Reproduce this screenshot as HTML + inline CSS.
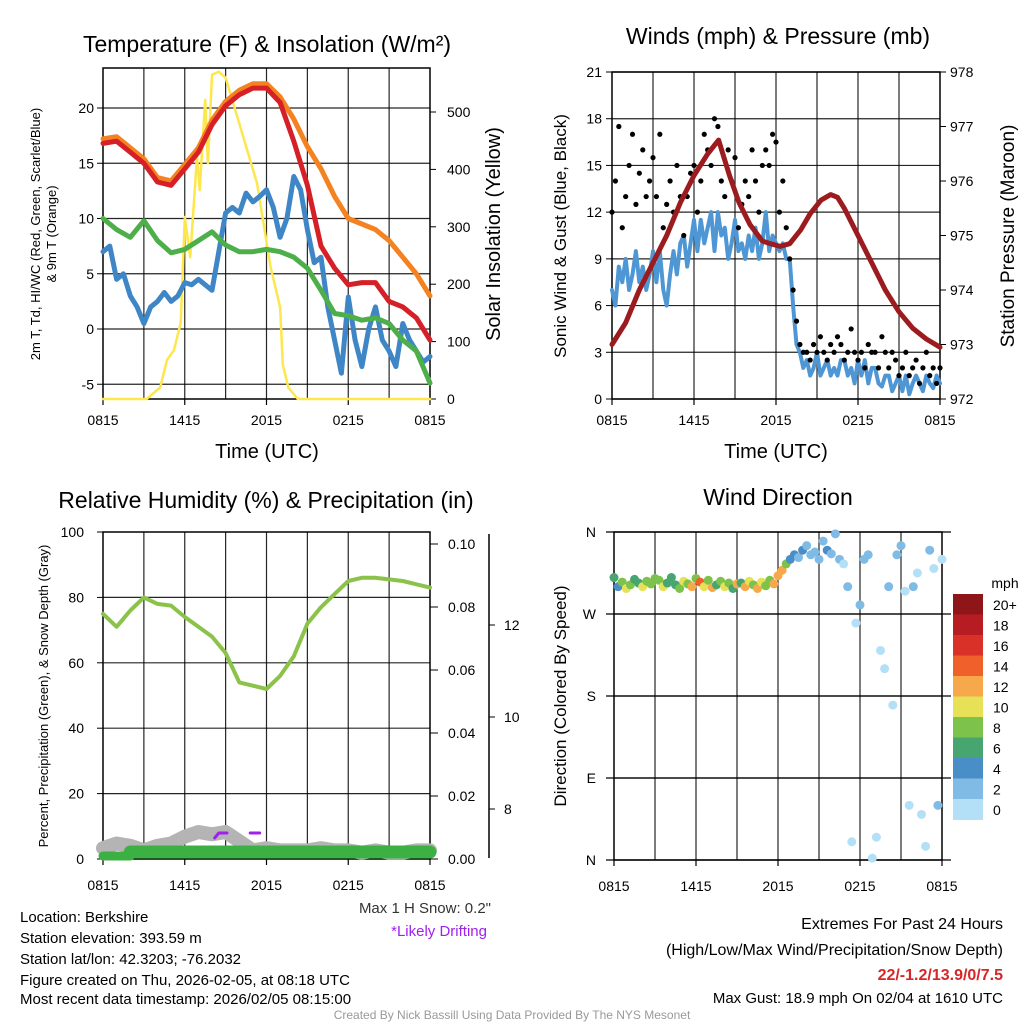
<!DOCTYPE html>
<html><head><meta charset="utf-8"><style>
body{margin:0;background:#fff}
svg{display:block;font-family:"Liberation Sans",sans-serif}
</style></head><body>
<svg id="s" width="1024" height="1024" viewBox="0 0 1024 1024">
<rect width="1024" height="1024" fill="#fff"/>
<g id="g1"></g>
<g id="g2"></g>
<g id="g3"></g>
<g id="g4"></g>
<g font-size="15" fill="#000">
<text x="20" y="922">Location: Berkshire</text>
<text x="20" y="943">Station elevation: 393.59 m</text>
<text x="20" y="964">Station lat/lon: 42.3203; -76.2032</text>
<text x="20" y="985">Figure created on Thu, 2026-02-05, at 08:18 UTC</text>
<text x="20" y="1004">Most recent data timestamp: 2026/02/05 08:15:00</text>
</g>
<text x="491" y="913" font-size="15" text-anchor="end" fill="#333">Max 1 H Snow: 0.2"</text>
<text x="487" y="936" font-size="15" text-anchor="end" fill="#a020f0">*Likely Drifting</text>
<g font-size="16" text-anchor="end">
<text x="1003" y="929">Extremes For Past 24 Hours</text>
<text x="1003" y="955">(High/Low/Max Wind/Precipitation/Snow Depth)</text>
<text x="1003" y="980" fill="#d62728" font-weight="bold">22/-1.2/13.9/0/7.5</text>
<text x="1003" y="1003" font-size="15">Max Gust: 18.9 mph On 02/04 at 1610 UTC</text>
</g>
<text x="512" y="1019" font-size="12" fill="#999" text-anchor="middle">Created By Nick Bassill Using Data Provided By The NYS Mesonet</text>
</svg>
<script>
// ---- Temperature panel data (hourly, 0815 UTC .. 0815 UTC) ----
const tempRed=[16.8,17,16,15,13.3,13,14.5,16,18.5,20.2,21.2,21.8,21.8,20.5,17,13,7.5,5.5,4,4.2,4.2,2.5,2,1,-1];
const tempOrange=[17.2,17.4,16.4,15.4,13.7,13.4,14.9,16.4,18.9,20.6,21.6,22.2,22.2,21,19,16.5,14.5,12,10,9.5,9,8,6.5,5,3];
const heatIndex=[10,9,8.3,9.8,8,6.9,7.2,8,8.8,7.6,7,7,7.2,7,6.5,5.5,3.5,1.4,1.2,0.8,1,0.5,-1,-2,-4.9];
const dewPoint=[7,7.5,4.5,5,3,2,0.5,2,2.5,3.3,2.5,3,4.2,4,4.5,4,3.5,7,10.5,11,10.5,12.3,11.5,12,12.6,11,8.3,10,13.8,12.6,9,6,6.5,2,-1,-4,2.9,-1,-3.4,0,2,-1,-2,-3.4,0.5,-1,-2,-3,-2.5];
const solarHours=[0,3.2,4.2,4.7,5.2,5.7,6.0,6.4,6.9,7.1,7.5,7.7,8.0,8.5,9.0,10,11.3,12.3,13,13.2,13.6,14.3,24];
const solarVals=[0,0,20,68,85,132,317,247,422,364,521,411,565,570,560,480,376,230,160,60,20,0,0];
const tempTicks=[-5,0,5,10,15,20];
const solarTicks=[0,100,200,300,400,500];
const timeLabels=["0815","1415","2015","0215","0815"];
// ---- Winds panel ----
const sonicWind=[7,6,8.5,7.5,9,7,8,9.5,7.5,8.5,7,8,9.5,7.5,9.5,7,6,8,9.5,8,10,10.5,8.5,10,11.5,9.5,11.5,10,11,12,9.5,12,10.5,11,9,10,11.5,9.5,10,9,10.5,9.5,11,9,10,12,9.5,10.5,10,9.5,10,9,9,6,3.5,3,2,2.5,1.5,2,3,1.5,2,2.5,1.5,2,1.5,2.5,2.5,1.5,2,1,2.5,1.5,2.5,1,2,2,1,0.8,1.5,1.5,0.5,1,1.5,0.5,1.5,0.3,1,1.5,1,0.5,1.5,1,0.7,1.5,1];
const gusts=[12,14,17.5,11,13,15,17,12.5,14.5,16,13,14,15.5,13,17,11,12.5,14,12,15,13,10.5,13,14.5,15,12,14,17,16,15,18,17.5,14,13,16,14,15.5,11,12.5,14,13,16,14,12,15,16,15,17,16.5,12,14,11,9,7,5,3.5,3,3,2.5,3.5,3,4,3,2.5,3.5,3,4,3.5,2.5,3,4.5,3,2.5,3,2,3.5,3,3,2,4,3,2,3,2.5,1.5,2,3,1.5,2,2.5,1,2,3,1.5,2,1,2];
const presHours=[0,1,2,3,4,5,6,7,7.8,8.6,9.3,10.1,11,11.6,12.3,13,13.8,14.5,15.3,16,16.5,17,18,19,20,21,22,23,24];
const presVals=[973.0,973.4,974.0,974.5,975.0,975.6,976.1,976.5,976.75,976.1,975.6,975.2,974.9,974.85,974.8,974.85,975.1,975.4,975.65,975.75,975.7,975.5,975.0,974.5,974.0,973.6,973.3,973.1,972.95];
const windTicks=[0,3,6,9,12,15,18,21];
const presTicks=[972,973,974,975,976,977,978];
// ---- RH panel ----
const rhVals=[75,71,76,80,78,77.5,74,71,68,63,54,53,52,56,62,72,77,81,85,86,86,85.5,85,84,83];
const snowDepth=[7.15,7.25,7.2,7.1,7.2,7.25,7.4,7.5,7.45,7.5,7.3,7.1,7.15,7.1,7.1,7.1,7.15,7.1,7.1,7.05,7.1,7.05,7.05,7.1,7.1];
const precipVals=[0,0,0,0,0,0,0,0,0,0,0,0,0,0,0,0,0,0,0,0,0,0,0,0,0];
const rhTicks=[0,20,40,60,80,100];
const precipTicks=["0.00","0.02","0.04","0.06","0.08","0.10"];
const snowTicks=[8,10,12];
// ---- Wind direction panel ----
const dirHours=[0,0.3,0.6,0.9,1.2,1.5,1.8,2.1,2.4,2.7,3,3.3,3.6,3.9,4.2,4.5,4.8,5.1,5.4,5.7,6,6.3,6.6,6.9,7.2,7.5,7.8,8.1,8.4,8.7,9,9.3,9.6,9.9,10.2,10.5,10.8,11.1,11.4,11.7,12,12.3,12.6,12.9,13.2,13.5,13.8,14.1,14.4,14.7,15,15.3,15.6,15.9,16.2,16.5,16.8,17.1,17.4,17.7,18,18.3,18.6,18.9,19.2,19.5,19.8,20.1,20.4,20.7,21,21.3,21.6,21.9,22.2,22.5,22.8,23.1,23.4,23.7,24];
const dirVals=[310,300,305,298,302,308,304,300,306,303,309,307,300,304,310,302,298,306,303,300,309,305,300,307,299,302,306,300,304,298,303,304,300,306,302,298,305,301,307,303,312,318,325,330,335,332,340,345,335,338,330,350,340,336,358,330,325,300,20,260,280,330,335,2,25,230,210,300,170,335,345,295,60,300,315,50,15,340,320,60,330];
const dirSpeeds=[6,5,8,10,8,6,7,10,9,8,9,8,10,7,6,7,8,10,9,12,8,14,10,8,12,7,9,10,8,7,12,7,12,10,8,13,10,8,9,12,12,12,8,4,4,3,4,3,2,3,2,3,4,2,3,2,1,2,1,1,2,3,2,1,1,1,1,2,1,3,2,1,1,2,1,1,1,2,1,2,1];
const dirTicks=["N","E","S","W","N"];
const speedLabels=["20+","18","16","14","12","10","8","6","4","2","0"];
const speedColors=["#8e1518","#b71c23","#d93028","#f0602a","#f6a84a","#e6e157","#7dc24b","#47a56f","#4a8ec7","#7fbbe4","#b3e0f7"];

const NS="http://www.w3.org/2000/svg";
function mk(parent,tag,attrs,txt){const e=document.createElementNS(NS,tag);for(const k in attrs)e.setAttribute(k,attrs[k]);if(txt!==undefined)e.textContent=txt;parent.appendChild(e);return e;}
function lin(d0,d1,r0,r1){return v=>r0+(v-d0)/(d1-d0)*(r1-r0);}
function poly(g,xs,ys,color,w,name){const pts=xs.map((x,i)=>x.toFixed(1)+","+ys[i].toFixed(1)).join(" ");const e=mk(g,"polyline",{points:pts,fill:"none",stroke:color,"stroke-width":w,"stroke-linejoin":"round","stroke-linecap":"round"});


return e;}
function frame(g,x0,y0,x1,y1,hTicksY,name,labOff){
  const fr=mk(g,"g",{});
  
  
  for(let i=1;i<8;i++){const x=x0+(x1-x0)*i/8;mk(fr,"line",{x1:x,y1:y0,x2:x,y2:y1,stroke:"#000","stroke-width":1.2,opacity:0.85});}
  hTicksY.forEach(y=>mk(fr,"line",{x1:x0,y1:y,x2:x1,y2:y,stroke:"#000","stroke-width":1.2,opacity:0.85}));
  mk(fr,"rect",{x:x0,y:y0,width:x1-x0,height:y1-y0,fill:"none",stroke:"#000","stroke-width":1.5});
  for(let i=0;i<=4;i++){const x=x0+(x1-x0)*i/4;mk(fr,"line",{x1:x,y1:y1,x2:x,y2:y1+6,stroke:"#000","stroke-width":1.2});
    const t=mk(fr,"text",{x:x,y:y1+labOff,"font-size":14,"text-anchor":"middle"},timeLabels[i]);
    
    }
}
function ttl(g,x,y,s,size,name,rot){const a={x:x,y:y,"font-size":size,"text-anchor":"middle"};if(rot)a.transform="rotate(-90 "+x+" "+y+")";const t=mk(g,"text",a,s);


return t;}

// ===== Panel 1 =====
(function(){
const g=document.getElementById("g1");
const X0=103,X1=430,Y0=68,Y1=399;
const hx=lin(0,24,X0,X1), ty=lin(0,20,329,108), sy=lin(0,500,399,112);
frame(g,X0,Y0,X1,Y1,tempTicks.map(ty),"temperature-grid",26);
tempTicks.forEach(v=>{mk(g,"line",{x1:X0-6,y1:ty(v),x2:X0,y2:ty(v),stroke:"#000"});const t=mk(g,"text",{x:X0-9,y:ty(v)+5,"font-size":14,"text-anchor":"end"},String(v));

});
solarTicks.forEach(v=>{mk(g,"line",{x1:X1,y1:sy(v),x2:X1+6,y2:sy(v),stroke:"#000"});const t=mk(g,"text",{x:X1+17,y:sy(v)+5,"font-size":14},String(v));

});
const hrs=tempRed.map((_,i)=>i);
poly(g,solarHours.map(hx),solarVals.map(sy),"#fde74c",2.5,"solar-line");
poly(g,dewPoint.map((_,i)=>hx(i/2)),dewPoint.map(ty),"#3f86c6",5,"dewpoint-line");
poly(g,hrs.map(hx),heatIndex.map(ty),"#4daf4a",5,"heat-index-line");
poly(g,hrs.map(hx),tempOrange.map(ty),"#f58220",5,"9m-temp-line");
poly(g,hrs.map(hx),tempRed.map(ty),"#d62028",5,"2m-temp-line");
ttl(g,267,52,"Temperature (F) & Insolation (W/m²)",23,"temperature-title");
ttl(g,267,458,"Time (UTC)",20,"x-axis-title");
ttl(g,40,234,"2m T, Td, HI/WC (Red, Green, Scarlet/Blue)",13,"temp-axis-title",true);
ttl(g,56,234,"& 9m T (Orange)",13,"temp-axis-title-2",true);
ttl(g,500,234,"Solar Insolation (Yellow)",20,"solar-axis-title",true);
})();

// ===== Panel 2 =====
(function(){
const g=document.getElementById("g2");
const X0=612,X1=940,Y0=72,Y1=399;
const hx=lin(0,24,X0,X1), wy=lin(0,21,Y1,Y0), py=lin(972,978,Y1,Y0);
frame(g,X0,Y0,X1,Y1,windTicks.map(wy),"winds-grid",26);
windTicks.forEach(v=>{mk(g,"line",{x1:X0-6,y1:wy(v),x2:X0,y2:wy(v),stroke:"#000"});const t=mk(g,"text",{x:X0-10,y:wy(v)+5,"font-size":14,"text-anchor":"end"},String(v));

});
presTicks.forEach(v=>{mk(g,"line",{x1:X1,y1:py(v),x2:X1+6,y2:py(v),stroke:"#000"});const t=mk(g,"text",{x:X1+10,y:py(v)+5,"font-size":14},String(v));

});
poly(g,sonicWind.map((_,i)=>hx(i/4)),sonicWind.map(wy),"#4f97d4",4,"sonic-wind-line");
gusts.forEach((v,i)=>{const c=mk(g,"circle",{cx:hx(i/4),cy:wy(v),r:2.6,fill:"#000"});

});
poly(g,presHours.map(hx),presVals.map(py),"#9b1b1e",5,"pressure-line");
ttl(g,778,44,"Winds (mph) & Pressure (mb)",23,"winds-title");
ttl(g,776,458,"Time (UTC)",20,"x-axis-title");
ttl(g,566,236,"Sonic Wind & Gust (Blue, Black)",17,"wind-axis-title",true);
ttl(g,1014,236,"Station Pressure (Maroon)",19,"pressure-axis-title",true);
})();

// ===== Panel 3 =====
(function(){
const g=document.getElementById("g3");
const X0=103,X1=430,Y0=532,Y1=859;
const hx=lin(0,24,X0,X1), ry=lin(0,100,Y1,Y0), py=lin(0,0.1,859,544), sny=lin(8,10,809,717);
frame(g,X0,Y0,X1,Y1,[20,40,60,80].map(ry),"humidity-grid",31);
rhTicks.forEach(v=>{mk(g,"line",{x1:X0-6,y1:ry(v),x2:X0,y2:ry(v),stroke:"#000"});const t=mk(g,"text",{x:X0-19,y:ry(v)+5,"font-size":14,"text-anchor":"end"},String(v));

});
precipTicks.forEach(s=>{const v=parseFloat(s);mk(g,"line",{x1:X1,y1:py(v),x2:X1+8,y2:py(v),stroke:"#000"});const t=mk(g,"text",{x:X1+18,y:py(v)+5,"font-size":14},s);

});
mk(g,"line",{x1:489,y1:534,x2:489,y2:858,stroke:"#000","stroke-width":1.5});
snowTicks.forEach(v=>{mk(g,"line",{x1:489,y1:sny(v),x2:495,y2:sny(v),stroke:"#000"});const t=mk(g,"text",{x:504,y:sny(v)+5,"font-size":14},String(v));

});
const hrs=rhVals.map((_,i)=>i);
poly(g,hrs.map(hx),snowDepth.map(sny),"#b4b4b4",14,"snow-depth-line");
poly(g,hrs.slice(0,3).map(hx),[856,856,856],"#3cb043",9,"precip-line-early");
poly(g,hrs.slice(2).map(hx),precipVals.slice(2).map(v=>py(v)-7),"#3cb043",13,"precip-line");
poly(g,[hx(8.2),hx(8.5),hx(9.1)],[838,833,833],"#a020f0",3,"drift-mark-1");
poly(g,[hx(10.8),hx(11.5)],[833,833],"#a020f0",3,"drift-mark-2");
poly(g,hrs.map(hx),rhVals.map(ry),"#8bc34a",4,"rh-line");
ttl(g,266,508,"Relative Humidity (%) & Precipitation (in)",23,"humidity-title");
ttl(g,48,696,"Percent, Precipitation (Green), & Snow Depth (Gray)",13,"rh-axis-title",true);
})();

// ===== Panel 4 =====
(function(){
const g=document.getElementById("g4");
const X0=614,X1=942,Y0=532,Y1=860;
const hx=lin(0,24,X0,X1), dy=lin(0,360,Y1,Y0);
frame(g,X0,Y0,X1,Y1,[90,180,270].map(dy),"direction-grid",31);
dirTicks.forEach((s,i)=>{const y=dy(i*90);mk(g,"line",{x1:X0-8,y1:y,x2:X1+9,y2:y,stroke:"#000","stroke-width":1.2});const t=mk(g,"text",{x:X0-18,y:y+5,"font-size":14,"text-anchor":"end"},s);

});
function col(s){let b=Math.floor(s/2);if(b>10)b=10;return speedColors[10-b];}
dirVals.forEach((v,i)=>{const c=mk(g,"circle",{cx:hx(dirHours[i]),cy:dy(v),r:4.5,fill:col(dirSpeeds[i])});

});
speedColors.forEach((c,i)=>{const r=mk(g,"rect",{x:953,y:594+i*20.5,width:30,height:21,fill:c});


const t=mk(g,"text",{x:993,y:594+i*20.5+16,"font-size":14},speedLabels[i]);

});
ttl(g,1005,588,"mph",14,"colorbar-title");
ttl(g,778,505,"Wind Direction",23,"direction-title");
ttl(g,566,696,"Direction (Colored By Speed)",17,"direction-axis-title",true);
})();
</script>
</body></html>
